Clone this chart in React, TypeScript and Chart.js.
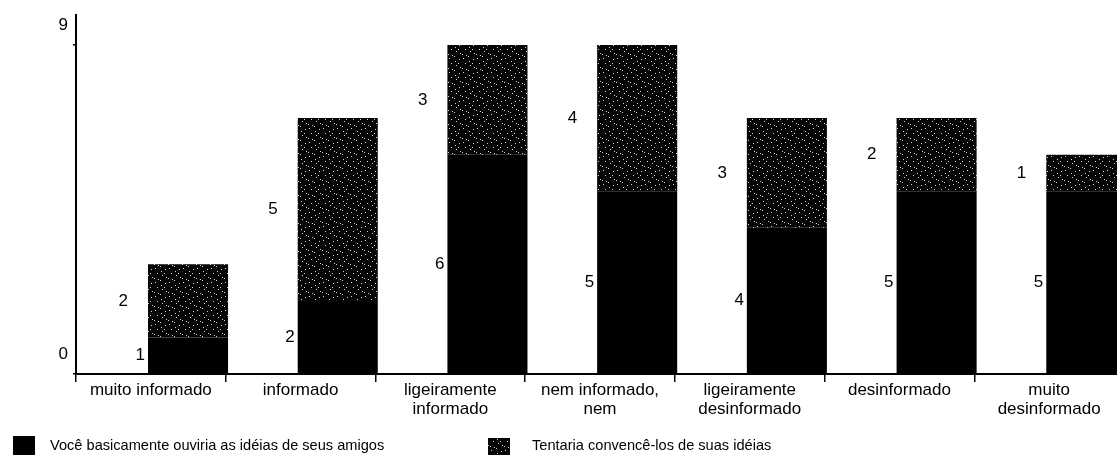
import React, { useEffect, useRef } from "react";
import { Chart, registerables } from "chart.js";

Chart.register(...registerables);

const categories: (string | string[])[] = [
  "muito informado",
  "informado",
  ["ligeiramente", "informado"],
  ["nem informado,", "nem"],
  ["ligeiramente", "desinformado"],
  "desinformado",
  ["muito", "desinformado"],
];
const ouviria = [1, 2, 6, 5, 4, 5, 5];
const convenceria = [2, 5, 3, 4, 3, 2, 1];
const padding0 = [0, 0, 0, 0, 0, 0, 0];
const yTicks = [0, 9];
const seriesLabels = [
  "Você basicamente ouviria as idéias de seus amigos",
  "Tentaria convencê-los de suas idéias",
];

const FONT = "'Liberation Sans', Arial, sans-serif";

function makeSpeckle(ctx: CanvasRenderingContext2D): CanvasPattern | string {
  const c = document.createElement("canvas");
  c.width = 14;
  c.height = 14;
  const g = c.getContext("2d");
  if (!g) return "#222";
  g.fillStyle = "#050505";
  g.fillRect(0, 0, 14, 14);
  const dots = [
    [1, 2], [6, 0], [11, 3], [3, 7], [8, 9], [12, 11], [0, 12], [7, 5], [4, 13], [10, 7],
  ];
  g.fillStyle = "#d8d8d8";
  dots.forEach(([x, y]) => g.fillRect(x, y, 1, 1));
  return ctx.createPattern(c, "repeat") || "#222";
}

const valueLabels = {
  id: "valueLabels",
  afterDatasetsDraw(chart: any) {
    const ctx = chart.ctx;
    ctx.save();
    ctx.font = `17px ${FONT}`;
    ctx.fillStyle = "#000";
    ctx.textAlign = "right";
    ctx.textBaseline = "middle";
    [1, 2].forEach((di) => {
      const meta = chart.getDatasetMeta(di);
      const data = chart.data.datasets[di].data as number[];
      meta.data.forEach((bar: any, i: number) => {
        const left = bar.x - bar.width / 2;
        const off = di === 1 ? 3 : 20;
        ctx.fillText(String(data[i]), left - off, (bar.y + bar.base) / 2);
      });
    });
    ctx.restore();
  },
};

const customLegend = {
  id: "customLegend",
  afterDraw(chart: any) {
    const ctx = chart.ctx;
    ctx.save();
    ctx.font = `14.6px ${FONT}`;
    ctx.textBaseline = "middle";
    ctx.textAlign = "left";
    const ds = chart.data.datasets;
    const items = [
      { ds: ds[1], bx: 13, by: 436, bw: 22, bh: 19, tx: 50 },
      { ds: ds[2], bx: 488, by: 438, bw: 22, bh: 17, tx: 532 },
    ];
    items.forEach((it) => {
      ctx.fillStyle = it.ds.backgroundColor;
      ctx.fillRect(it.bx, it.by, it.bw, it.bh);
      ctx.fillStyle = "#000";
      ctx.fillText(it.ds.label, it.tx, 446);
    });
    ctx.restore();
  },
};

export default function App() {
  const ref = useRef<HTMLCanvasElement | null>(null);
  useEffect(() => {
    const canvas = ref.current;
    if (!canvas) return;
    const ctx = canvas.getContext("2d")!;
    const speckle = makeSpeckle(ctx);
    const chart = new Chart(canvas, {
      type: "bar",
      data: {
        labels: categories,
        datasets: [
          {
            label: "pad",
            data: padding0,
            stack: "pad",
            backgroundColor: "rgba(0,0,0,0)",
          },
          {
            label: seriesLabels[0],
            data: ouviria,
            stack: "main",
            backgroundColor: "#000",
          },
          {
            label: seriesLabels[1],
            data: convenceria,
            stack: "main",
            backgroundColor: speckle as any,
          },
        ],
      },
      options: {
        responsive: false,
        animation: false,
        layout: { padding: { top: 13, left: 0, right: 0, bottom: 0 } },
        datasets: {
          bar: { categoryPercentage: 0.993, barPercentage: 1.077 },
        },
        plugins: {
          legend: { display: false },
          tooltip: { enabled: false },
        },
        scales: {
          x: {
            stacked: true,
            offset: true,
            grid: {
              drawOnChartArea: false,
              drawTicks: true,
              tickLength: 8,
              color: "#000",
              lineWidth: 1.5,
            },
            border: { display: true, color: "#000", width: 2 },
            ticks: {
              color: "#000",
              font: { family: FONT, size: 17, lineHeight: 1.12 },
              padding: -1,
              maxRotation: 0,
              autoSkip: false,
            },
            afterFit(scale: any) {
              scale.height = 83;
            },
          },
          y: {
            stacked: true,
            min: 0,
            max: 9.815,
            afterBuildTicks(scale: any) {
              scale.ticks = yTicks.map((v) => ({ value: v }));
            },
            grid: {
              drawOnChartArea: false,
              drawTicks: true,
              tickLength: 3,
              color: "#000",
              lineWidth: 1.5,
            },
            border: { display: true, color: "#000", width: 2 },
            ticks: {
              color: "#000",
              font: { family: FONT, size: 17 },
              padding: 5,
              labelOffset: -20,
            },
            afterFit(scale: any) {
              scale.width = 76;
            },
          },
        },
      },
      plugins: [valueLabels, customLegend],
    });
    return () => chart.destroy();
  }, []);
  return (
    <div
      style={{
        position: "fixed",
        left: 0,
        top: 0,
        width: 1117,
        height: 457,
        overflow: "hidden",
        background: "#fff",
      }}
    >
      <canvas ref={ref} width={1124} height={457} style={{ display: "block" }} />
    </div>
  );
}
